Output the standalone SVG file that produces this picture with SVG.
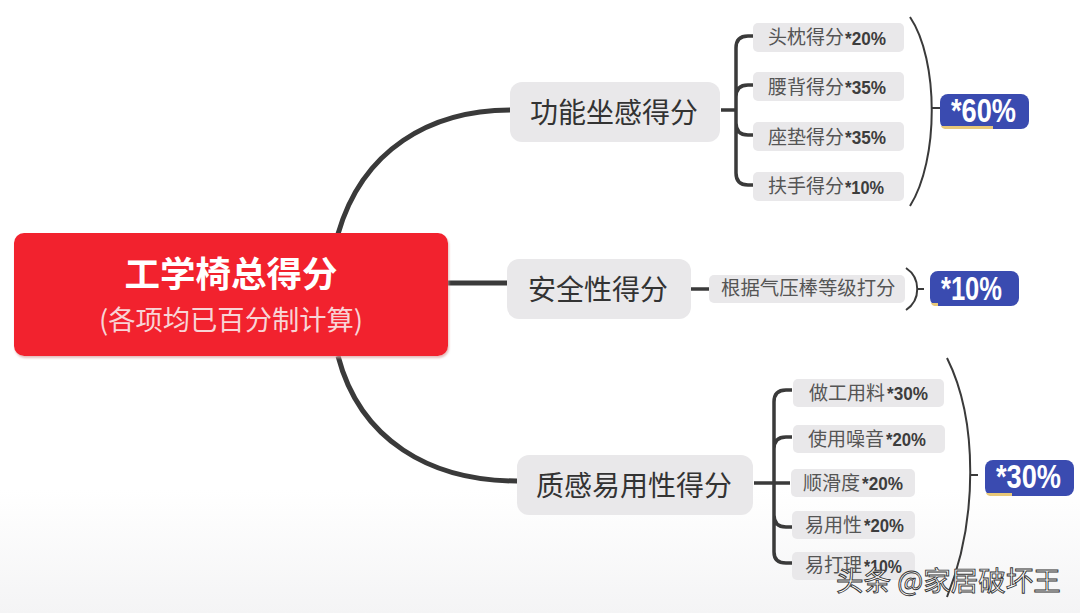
<svg xmlns="http://www.w3.org/2000/svg" width="1080" height="613" viewBox="0 0 1080 613">
<defs>
<linearGradient id="bg" x1="0" y1="0" x2="0" y2="1"><stop offset="0" stop-color="#ffffff"/><stop offset="1" stop-color="#f4f4f5"/></linearGradient>
<filter id="sh" x="-5%" y="-5%" width="110%" height="115%"><feDropShadow dx="1" dy="2" stdDeviation="1.2" flood-color="#d8a0a0" flood-opacity="0.7"/></filter>
</defs>
<style>
text{font-family:"Noto Sans CJK SC","Liberation Sans",sans-serif}
.m{fill:#e9e8ea}
.l{fill:#e9e8ea}
.t1{font-size:28px;fill:#333;text-anchor:middle}
.t2{font-size:19px;fill:#555;text-anchor:start}
.p{font-family:"Liberation Sans",sans-serif;font-weight:700;font-size:18px;fill:#3d3d3d}
.c{fill:none;stroke:#3a3a3a;stroke-linecap:butt}
.thick{stroke-width:5}
.mid{stroke-width:3.5}
.thin{stroke-width:2}
.b{fill:#3a4bb0}
.g{fill:#e8c878}
.bt{font-family:"Liberation Sans",sans-serif;font-weight:700;font-size:33px;fill:#fff}
.wm{font-size:27.5px;fill:#fff;stroke:#333;stroke-width:.9px}
</style>
<rect width="1080" height="613" fill="#ffffff"/>
<rect y="490" width="1080" height="123" fill="url(#bg)"/>
<g id="connectors">
<path class="c thick" d="M338 234C362 150 430 110 511 110"/>
<path class="c thick" d="M448 283H507"/>
<path class="c thick" d="M338 356C360 440 430 481 517 481"/>
<path class="c mid" d="M721 110H736M753 36H748Q736 36 736 48V173Q736 185 748 185H753M736 97Q736 85 748 85H753M736 123Q736 135 748 135H753"/>
<path class="c mid" d="M691 289H709"/>
<path class="c mid" d="M754 483H790M792 390H786Q774 390 774 402V552Q774 563 786 563H792M774 449Q774 437 786 437H792M774 515Q774 527 786 527H792"/>
<path class="c thin" d="M910 17C939 60 939 160 910 206"/>
<path class="c thin" d="M932 108H940"/>
<path class="c thin" d="M906 268C921 278 921 300 906 310"/>
<path class="c thin" d="M917 289H924"/>
<path class="c thin" d="M947 358C978 420 978 520 947 597"/>
<path class="c thin" d="M970 475H978"/>
</g>
<g id="root"><rect x="14" y="233" width="434" height="123" rx="10" fill="#f2202f" filter="url(#sh)"/>
<text x="231" y="287" font-size="35.5" font-weight="700" fill="#fff" text-anchor="middle">工学椅总得分</text>
<text x="231" y="330" font-size="27.3" fill="#f8d4d6" text-anchor="middle">(各项均已百分制计算)</text></g>
<g id="n1"><rect class="m" x="510" y="82" width="210" height="60" rx="12"/><text class="t1" x="614" y="123">功能坐感得分</text></g>
<g id="n2"><rect class="m" x="507" y="259" width="184" height="60" rx="12"/><text class="t1" x="598" y="300">安全性得分</text></g>
<g id="n3"><rect class="m" x="517" y="455" width="236" height="60" rx="12"/><text class="t1" x="634" y="496">质感易用性得分</text></g>
<g id="a1"><rect class="l" x="753" y="23" width="151" height="29" rx="5"/><text class="t2" x="768" y="44">头枕得分</text><text class="p" x="845" y="45" textLength="41" lengthAdjust="spacingAndGlyphs">*20%</text></g>
<g id="a2"><rect class="l" x="753" y="72" width="151" height="29" rx="5"/><text class="t2" x="768" y="94">腰背得分</text><text class="p" x="845" y="94" textLength="41" lengthAdjust="spacingAndGlyphs">*35%</text></g>
<g id="a3"><rect class="l" x="753" y="122" width="151" height="29" rx="5"/><text class="t2" x="768" y="144">座垫得分</text><text class="p" x="845" y="144" textLength="41" lengthAdjust="spacingAndGlyphs">*35%</text></g>
<g id="a4"><rect class="l" x="753" y="172" width="151" height="29" rx="5"/><text class="t2" x="768" y="193">扶手得分</text><text class="p" x="845" y="194" textLength="39" lengthAdjust="spacingAndGlyphs">*10%</text></g>
<g id="b1"><rect class="l" x="709" y="275" width="196" height="28" rx="5"/><text class="t2" x="721" y="295" style="font-size:19.4px">根据气压棒等级打分</text></g>
<g id="c1"><rect class="l" x="793" y="379" width="151" height="28" rx="5"/><text class="t2" x="809" y="400">做工用料</text><text class="p" x="887" y="400" textLength="41" lengthAdjust="spacingAndGlyphs">*30%</text></g>
<g id="c2"><rect class="l" x="793" y="425" width="152" height="28" rx="5"/><text class="t2" x="808" y="446">使用噪音</text><text class="p" x="886" y="446" textLength="40" lengthAdjust="spacingAndGlyphs">*20%</text></g>
<g id="c3"><rect class="l" x="791" y="469" width="124" height="28" rx="5"/><text class="t2" x="803" y="490">顺滑度</text><text class="p" x="862" y="490" textLength="41" lengthAdjust="spacingAndGlyphs">*20%</text></g>
<g id="c4"><rect class="l" x="792" y="511" width="123" height="28" rx="5"/><text class="t2" x="805" y="532">易用性</text><text class="p" x="864" y="532" textLength="40" lengthAdjust="spacingAndGlyphs">*20%</text></g>
<g id="c5"><rect class="l" x="792" y="552" width="123" height="28" rx="5"/><text class="t2" x="805" y="572">易打理</text><text class="p" x="864" y="573" textLength="38" lengthAdjust="spacingAndGlyphs">*10%</text></g>
<g id="s1"><rect class="b" x="940" y="94" width="89" height="35" rx="8"/><path class="g" d="M941 126H993V129H946Q942 129 941 126Z"/><text class="bt" x="951" y="122" textLength="65" lengthAdjust="spacingAndGlyphs">*60%</text></g>
<g id="s2"><rect class="b" x="930" y="271" width="89" height="35" rx="8"/><path class="g" d="M931 303H938V306H935Q932 306 931 303Z"/><text class="bt" x="941" y="300" textLength="61" lengthAdjust="spacingAndGlyphs">*10%</text></g>
<g id="s3"><rect class="b" x="985" y="460" width="89" height="36" rx="8"/><path class="g" d="M986 493H1012V496H991Q987 496 986 493Z"/><text class="bt" x="996" y="488" textLength="65" lengthAdjust="spacingAndGlyphs">*30%</text></g>
<text id="watermark" class="wm" x="836" y="591">头条 @家居破坏王</text>
</svg>
